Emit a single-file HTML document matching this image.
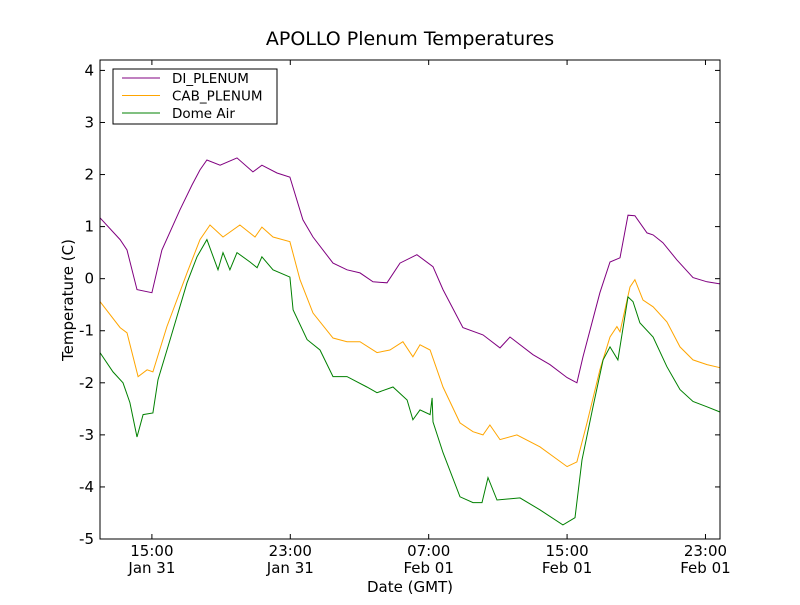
<!DOCTYPE html>
<html><head><meta charset="utf-8"><style>
body{margin:0;background:#fff}
svg text{font-family:"DejaVu Sans","Liberation Sans",sans-serif;fill:#000}
</style></head><body>
<svg id="chart" width="800" height="600" xmlns="http://www.w3.org/2000/svg">
<rect width="800" height="600" fill="#fff"/>
<text x="410" y="45" font-size="19" text-anchor="middle">APOLLO Plenum Temperatures</text>
<text transform="translate(73,300) rotate(-90)" font-size="15" text-anchor="middle">Temperature (C)</text>
<text x="410" y="592" font-size="15" text-anchor="middle">Date (GMT)</text>
<g id="plot"></g>
</svg>
<script>
// hours since Jan 31 12:00 GMT
const diTimes=[0,1.16,1.56,2.14,3.0,3.58,4.62,5.32,5.78,6.18,6.94,7.92,8.84,9.36,10.23,10.98,11.73,12.31,13.47,14.28,15.03,15.78,16.59,17.34,18.32,19.25,19.83,20.98,22.14,23.12,23.70,25.03,26.01,27.0,27.57,27.92,28.9,29.48,30.06,30.52,30.92,31.62,31.97,32.54,33.35,34.28,35.09,35.84];
const diValues=[1.17,0.75,0.55,-0.21,-0.27,0.55,1.32,1.80,2.09,2.28,2.18,2.32,2.05,2.18,2.03,1.95,1.13,0.80,0.30,0.17,0.11,-0.06,-0.08,0.30,0.46,0.23,-0.21,-0.94,-1.08,-1.33,-1.12,-1.46,-1.65,-1.90,-2.0,-1.50,-0.27,0.32,0.40,1.22,1.21,0.88,0.84,0.69,0.36,0.02,-0.06,-0.10];
const cabTimes=[0,1.16,1.56,2.20,2.72,3.06,3.87,5.03,5.78,6.36,7.11,8.09,8.96,9.36,10.0,10.98,11.56,12.31,13.47,14.28,15.03,16.01,16.76,17.51,18.09,18.50,19.08,19.83,20.81,21.56,22.14,22.54,23.12,24.10,25.43,27.0,27.57,28.15,28.9,29.48,29.88,30.06,30.64,30.92,31.39,31.97,32.77,33.53,34.28,35.09,35.84];
const cabValues=[-0.44,-0.94,-1.04,-1.88,-1.75,-1.79,-0.92,0.11,0.75,1.03,0.80,1.03,0.80,0.99,0.80,0.71,-0.02,-0.66,-1.14,-1.21,-1.21,-1.42,-1.37,-1.21,-1.50,-1.27,-1.37,-2.08,-2.77,-2.94,-3.0,-2.81,-3.09,-3.0,-3.23,-3.61,-3.52,-2.77,-1.75,-1.12,-0.92,-1.02,-0.16,-0.02,-0.41,-0.54,-0.83,-1.31,-1.56,-1.65,-1.71];
const domeTimes=[0,0.75,1.33,1.73,2.14,2.49,3.06,3.35,4.05,5.03,5.61,6.18,6.82,7.11,7.51,7.92,8.67,9.08,9.36,10.0,10.98,11.16,11.97,12.72,13.47,14.28,15.43,16.01,16.94,17.75,18.09,18.50,19.08,19.2,19.25,19.83,20.81,21.56,22.08,22.43,22.95,24.28,25.43,26.76,27.46,27.86,28.5,29.08,29.48,29.94,30.52,30.81,31.21,31.97,32.77,33.53,34.28,35.09,35.84];
const domeValues=[-1.42,-1.79,-2.0,-2.38,-3.04,-2.61,-2.58,-1.94,-1.17,-0.08,0.42,0.75,0.17,0.50,0.17,0.50,0.32,0.21,0.42,0.17,0.03,-0.60,-1.17,-1.37,-1.88,-1.88,-2.08,-2.19,-2.08,-2.33,-2.71,-2.52,-2.61,-2.29,-2.75,-3.34,-4.19,-4.30,-4.30,-3.82,-4.25,-4.21,-4.44,-4.73,-4.59,-3.48,-2.46,-1.56,-1.31,-1.56,-0.35,-0.44,-0.85,-1.12,-1.69,-2.13,-2.36,-2.46,-2.56];
const yTicks=[-5,-4,-3,-2,-1,0,1,2,3,4];
const xTickHours=[3,11,19,27,35];
const xTickTimes=["15:00","23:00","07:00","15:00","23:00"];
const xTickDates=["Jan 31","Jan 31","Feb 01","Feb 01","Feb 01"];

const L=100,R=720,T=60,B=539,X0=0,X1=35.84,Y0=-5,Y1=4.2;
const xs=h=>L+(h-X0)/(X1-X0)*(R-L);
const ys=v=>B-(v-Y0)/(Y1-Y0)*(B-T);
const NS="http://www.w3.org/2000/svg";
const g=document.getElementById('plot');
function mk(tag,attrs){const e=document.createElementNS(NS,tag);for(const k in attrs)e.setAttribute(k,attrs[k]);g.appendChild(e);return e;}

function series(t,v,color,name){
  const e=mk('polyline',{points:t.map((h,i)=>xs(h).toFixed(1)+','+ys(v[i]).toFixed(1)).join(' '),fill:'none',stroke:color,'stroke-width':1});
  
  
}
series(diTimes,diValues,'#800080','di-plenum-line');
series(cabTimes,cabValues,'#ffa500','cab-plenum-line');
series(domeTimes,domeValues,'#008000','dome-air-line');

const frame=mk('rect',{x:L,y:T,width:R-L,height:B-T,fill:'none',stroke:'#000','stroke-width':1});



yTicks.forEach(v=>{
  const y=ys(v);
  mk('line',{x1:L,x2:L+5,y1:y,y2:y,stroke:'#000'});
  mk('line',{x1:R,x2:R-5,y1:y,y2:y,stroke:'#000'});
  const t=mk('text',{x:L-6,y:y+5,'font-size':15,'text-anchor':'end'});
  t.textContent=String(v);
  
  
});
xTickHours.forEach((h,i)=>{
  const x=xs(h);
  mk('line',{x1:x,x2:x,y1:B,y2:B-5,stroke:'#000'});
  mk('line',{x1:x,x2:x,y1:T,y2:T+5,stroke:'#000'});
  const t=mk('text',{x:x,y:556,'font-size':15,'text-anchor':'middle'});
  t.textContent=xTickTimes[i];
  
  
  const d=mk('text',{x:x,y:573,'font-size':15,'text-anchor':'middle'});
  d.textContent=xTickDates[i];
  
  
});

const legendNames=["DI_PLENUM","CAB_PLENUM","Dome Air"];
const legendColors=['#800080','#ffa500','#008000'];
const lb=mk('rect',{x:113,y:69,width:164,height:55,fill:'#fff',stroke:'#000'});


legendNames.forEach((n,i)=>{
  const y=78+i*17.5;
  const l=mk('line',{x1:122,x2:160,y1:y,y2:y,stroke:legendColors[i]});
  
  
  const t=mk('text',{x:172,y:y+5,'font-size':13.5});
  t.textContent=n;
  
  
});
</script>
</body></html>
